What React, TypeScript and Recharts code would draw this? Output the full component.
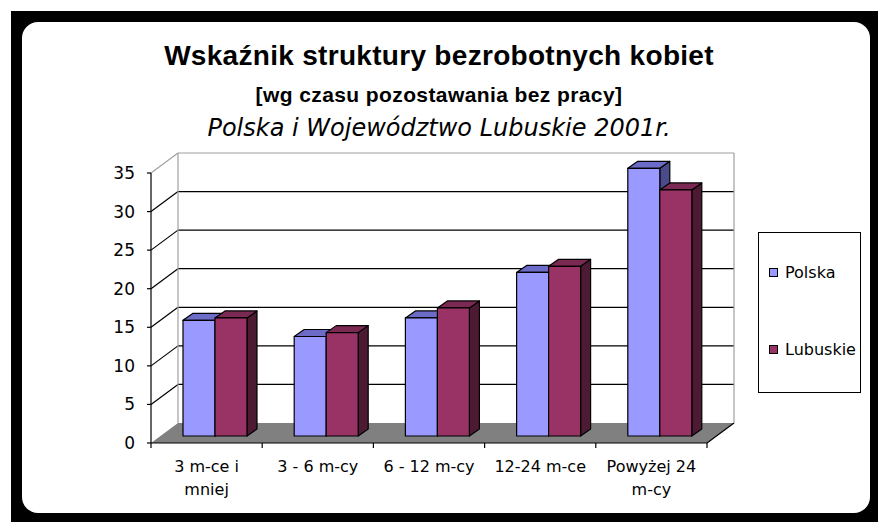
import React from 'react';
import { BarChart, Bar, XAxis, YAxis, CartesianGrid } from 'recharts';

// dane (%)
const categories = ['3 m-ce i\nmniej', '3 - 6 m-cy', '6 - 12 m-cy', '12-24 m-ce', 'Powyżej 24\nm-cy'];
const polska = [15.0, 12.9, 15.3, 21.2, 34.7];
const lubuskie = [15.3, 13.4, 16.6, 22.0, 31.9];
const seriesNames = ['Polska', 'Lubuskie'];
const yTicks = [0, 5, 10, 15, 20, 25, 30, 35];

const data = categories.map((cat, i) => ({ cat, Polska: polska[i], Lubuskie: lubuskie[i] }));

// plot area (front plane)
const PLOT = { left: 151, top: 173, right: 707, bottom: 443 };
const W = 878;
const H = 522;
const WALL_DX = 27; // back wall offset
const WALL_DY = -20;
const MID_DX = 8; // bars sit in the middle of the depth
const MID_DY = -7;
const BAR_DX = 10; // bar depth
const BAR_DY = 7;

const COLORS = {
  Polska: { front: '#9999ff', top: '#6c6cc8', side: '#4b4b8c' },
  Lubuskie: { front: '#993366', top: '#7a2952', side: '#4d1a33' },
};

const Bar3D = (props: any) => {
  const { x, y, width, height, colors } = props;
  if (width == null || height == null) return null;
  const fx = x + MID_DX;
  const fy = y + MID_DY;
  const topPts = `${fx},${fy} ${fx + width},${fy} ${fx + width + BAR_DX},${fy - BAR_DY} ${fx + BAR_DX},${fy - BAR_DY}`;
  const sidePts = `${fx + width},${fy} ${fx + width + BAR_DX},${fy - BAR_DY} ${fx + width + BAR_DX},${fy + height - BAR_DY} ${fx + width},${fy + height}`;
  return (
    <g stroke="#000" strokeWidth={1.2} strokeLinejoin="round">
      <polygon points={sidePts} fill={colors.side} />
      <polygon points={topPts} fill={colors.top} />
      <rect x={fx} y={fy} width={width} height={height} fill={colors.front} />
    </g>
  );
};

// linie siatki rysowane na tylnej ścianie + lewa ściana + podłoga
const GridLine3D = (p: any) => {
  const { x1, x2, y1 } = p;
  const bx1 = x1 + WALL_DX;
  const bx2 = x2 + WALL_DX;
  const by = y1 + WALL_DY;
  if (Math.abs(y1 - PLOT.bottom) < 1) {
    return (
      <g>
        <polygon points={`${x1},${y1} ${x2},${y1} ${bx2},${by} ${bx1},${by}`} fill="#808080" />
        <line x1={x2} y1={y1} x2={bx2} y2={by} stroke="#000" strokeWidth={1.2} />
      </g>
    );
  }
  if (Math.abs(y1 - PLOT.top) < 1) {
    const floorY = PLOT.bottom + WALL_DY;
    return (
      <g stroke="#a0a0a0" strokeWidth={1.2} fill="none">
        <line x1={x1} y1={y1} x2={bx1} y2={by} />
        <line x1={bx1} y1={by} x2={bx2} y2={by} />
        <line x1={bx1} y1={by} x2={bx1} y2={floorY} />
        <line x1={bx2} y1={by} x2={bx2} y2={floorY} />
      </g>
    );
  }
  return (
    <g stroke="#000" strokeWidth={1.2}>
      <line x1={x1} y1={y1} x2={bx1} y2={by} />
      <line x1={bx1} y1={by} x2={bx2} y2={by} />
    </g>
  );
};

const CategoryTick = (props: any) => {
  const { x, y, payload, index } = props;
  const half = (PLOT.right - PLOT.left) / categories.length / 2;
  const lines = String(payload.value).split('\n');
  return (
    <g>
      <line x1={x - half} x2={x - half} y1={y} y2={y + 5} stroke="#000" strokeWidth={1.2} />
      {index === categories.length - 1 && (
        <line x1={x + half} x2={x + half} y1={y} y2={y + 5} stroke="#000" strokeWidth={1.2} />
      )}
      <text x={x} y={y + 29} textAnchor="middle" fontFamily="DejaVu Sans" fontSize={16} fill="#000">
        {lines.map((l, i) => (
          <tspan key={i} x={x} dy={i === 0 ? 0 : 23.3}>
            {l}
          </tspan>
        ))}
      </text>
    </g>
  );
};

export default function App() {
  return (
    <div style={{ position: 'absolute', left: 0, top: 0, width: W, height: H, background: '#fff' }}>
      <svg width={W} height={H} style={{ position: 'absolute', left: 0, top: 0 }}>
        <rect x={11} y={11} width={W - 11} height={H - 11} fill="#000" />
        <rect x={22} y={22} width={848} height={491} rx={16} ry={16} fill="#fff" />
        <text x={439} y={65} textAnchor="middle" fontFamily="Liberation Sans" fontWeight="bold" fontSize={28} letterSpacing={0.3}>
          Wskaźnik struktury bezrobotnych kobiet
        </text>
        <text x={439} y={102} textAnchor="middle" fontFamily="Liberation Sans" fontWeight="bold" fontSize={21} letterSpacing={0.4}>
          [wg czasu pozostawania bez pracy]
        </text>
        <text x={439} y={136} textAnchor="middle" fontFamily="DejaVu Sans" fontStyle="italic" fontSize={24}>
          Polska i Województwo Lubuskie 2001r.
        </text>
      </svg>

      <div style={{ position: 'absolute', left: 0, top: 0 }}>
        <BarChart
          width={W}
          height={H}
          data={data}
          margin={{ top: PLOT.top, right: W - PLOT.right, bottom: 49, left: PLOT.left - 60 }}
          barGap={0}
          barSize={32}
        >
          <CartesianGrid vertical={false} horizontal={GridLine3D as any} fill="none" />
          <XAxis
            dataKey="cat"
            height={30}
            interval={0}
            tickSize={0}
            tickMargin={0}
            tickLine={false}
            axisLine={{ stroke: '#000', strokeWidth: 1.2 }}
            tick={<CategoryTick />}
          />
          <YAxis
            width={60}
            domain={[0, 35]}
            ticks={yTicks}
            interval={0}
            tickSize={4}
            tickMargin={12}
            axisLine={{ stroke: '#000', strokeWidth: 1.2 }}
            tickLine={{ stroke: '#000', strokeWidth: 1.2 }}
            tick={{ fill: '#000', fontSize: 17, fontFamily: 'DejaVu Sans' }}
          />
          <Bar
            dataKey="Polska"
            fill={COLORS.Polska.front}
            isAnimationActive={false}
            shape={(p: any) => <Bar3D {...p} colors={COLORS.Polska} />}
          />
          <Bar
            dataKey="Lubuskie"
            fill={COLORS.Lubuskie.front}
            isAnimationActive={false}
            shape={(p: any) => <Bar3D {...p} colors={COLORS.Lubuskie} />}
          />
        </BarChart>
      </div>

      {/* legenda */}
      <div
        style={{
          position: 'absolute',
          left: 758,
          top: 232,
          width: 103,
          height: 161,
          border: '1px solid #000',
          boxSizing: 'border-box',
          background: '#fff',
          fontFamily: 'DejaVu Sans',
          fontSize: 16,
        }}
      >
        {seriesNames.map((name, i) => (
          <div
            key={name}
            style={{
              position: 'absolute',
              left: 10,
              top: i === 0 ? 29 : 106,
              height: 20,
              display: 'flex',
              alignItems: 'center',
              whiteSpace: 'nowrap',
            }}
          >
            <span
              style={{
                display: 'inline-block',
                width: 9,
                height: 9,
                boxSizing: 'border-box',
                border: '1.3px solid #000',
                background: COLORS[name as keyof typeof COLORS].front,
                marginRight: 7,
              }}
            />
            <span>{name}</span>
          </div>
        ))}
      </div>
    </div>
  );
}
